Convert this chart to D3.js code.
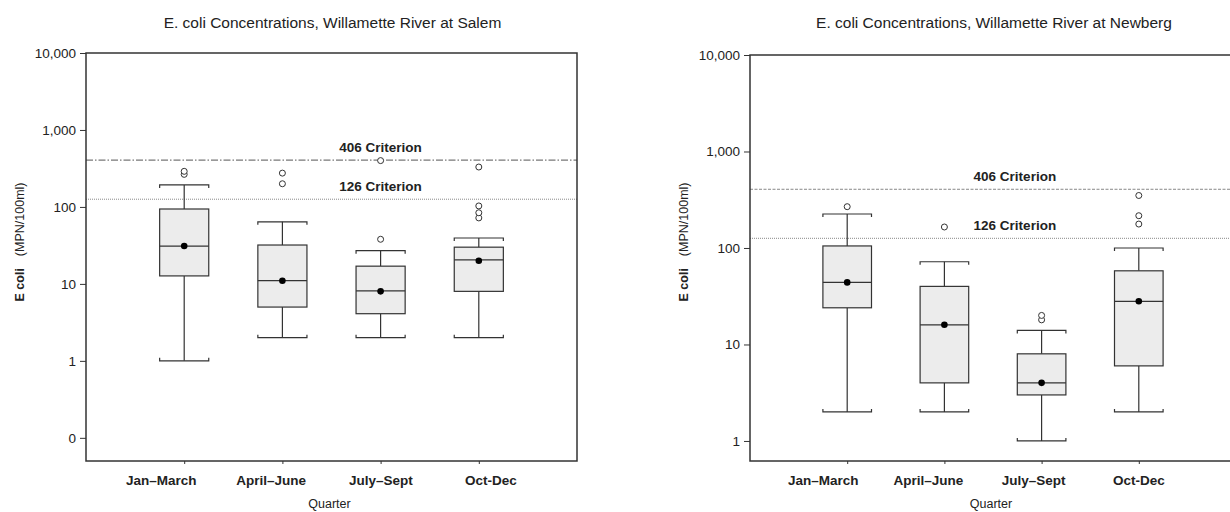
<!DOCTYPE html>
<html>
<head>
<meta charset="utf-8">
<script src="https://cdn.jsdelivr.net/npm/d3@7"></script>
<style>
  html, body { margin: 0; padding: 0; background: #fff; }
  svg { display: block; font-family: "Liberation Sans", Arial, sans-serif; }
</style>
</head>
<body>
<svg id="chart" width="1230" height="512"></svg>
<script>
// ---------- data ----------
const quarters = ["Jan–March", "April–June", "July–Sept", "Oct-Dec"];

const salemMin      = [1, 2, 2, 2];
const salemQ1       = [12.7, 5, 4.1, 8];
const salemMedian   = [31, 11, 8.1, 20.5];
const salemQ3       = [94, 32, 17, 30];
const salemMax      = [193, 64, 27, 39.5];
const salemMean     = [31, 11, 8, 20];
const salemOutliers = [[265, 290], [200, 275], [38, 400], [72, 84, 103, 330]];

const newbergMin      = [2, 2, 1, 2];
const newbergQ1       = [24, 4, 3, 6];
const newbergMedian   = [44, 16, 4, 28];
const newbergQ3       = [105, 40, 8, 58];
const newbergMax      = [225, 72, 14, 100];
const newbergMean     = [44, 16, 4, 28];
const newbergOutliers = [[268], [165], [18, 20], [177, 216, 350]];

const criteria = [406, 126];
const criterionLabels = ["406 Criterion", "126 Criterion"];

const salemTicks = [0.1, 1, 10, 100, 1000, 10000];
const salemTickLabels = ["0", "1", "10", "100", "1,000", "10,000"];
const newbergTicks = [1, 10, 100, 1000, 10000];
const newbergTickLabels = ["1", "10", "100", "1,000", "10,000"];

const titles = ["E. coli Concentrations, Willamette River at Salem",
                "E. coli Concentrations, Willamette River at Newberg"];

// ---------- layout ----------
const svg = d3.select("#chart");

const panels = [
  { title: titles[0], x0: 86, x1: 577, y0: 53, y1: 461, dom: [0.05, 10000],
    min: salemMin, q1: salemQ1, med: salemMedian, q3: salemQ3, max: salemMax,
    mean: salemMean, out: salemOutliers, ticks: salemTicks, tickLabels: salemTickLabels,
    dash406: "7,2,1.5,2", col406: "#555", labFrac: 0.6, labOff: [-23, 12], ylabX: 20 },
  { title: titles[1], x0: 750, x1: 1236, y0: 55, y1: 461, dom: [0.62, 10000],
    min: newbergMin, q1: newbergQ1, med: newbergMedian, q3: newbergQ3, max: newbergMax,
    mean: newbergMean, out: newbergOutliers, ticks: newbergTicks, tickLabels: newbergTickLabels,
    dash406: "3,1.5", col406: "#888", labFrac: 0.545, labOff: [-24, 0], ylabX: 684 }
];

panels.forEach(p => {
  const g = svg.append("g");
  const x = d3.scalePoint().domain(quarters).range([p.x0, p.x1]).padding(1);
  const y = d3.scaleLog().domain(p.dom).range([p.y1, p.y0]);
  const step = x.step();
  const bw = step * 0.5;

  // title
  g.append("text")
    .attr("x", (p.x0 + p.x1) / 2 + 1).attr("y", 28)
    .attr("text-anchor", "middle")
    .attr("font-size", 15.5).attr("fill", "#222")
    .text(p.title);

  // criterion lines
  criteria.forEach((c, i) => {
    g.append("line")
      .attr("x1", p.x0).attr("x2", p.x1)
      .attr("y1", y(c)).attr("y2", y(c))
      .attr("stroke", i === 0 ? p.col406 : "#888")
      .attr("stroke-width", 1)
      .attr("stroke-dasharray", i === 0 ? p.dash406 : "1,1");
    g.append("text")
      .attr("x", p.x0 + p.labFrac * (p.x1 - p.x0))
      .attr("y", y(c) - 8)
      .attr("text-anchor", "middle")
      .attr("font-size", 13.5).attr("font-weight", "bold").attr("fill", "#222")
      .text(criterionLabels[i]);
  });

  // boxes
  quarters.forEach((q, i) => {
    const cx = x(q);
    const bx = g.append("g");
    // whiskers
    bx.append("line").attr("x1", cx).attr("x2", cx)
      .attr("y1", y(p.q3[i])).attr("y2", y(p.max[i]))
      .attr("stroke", "#333").attr("stroke-width", 1.2);
    bx.append("line").attr("x1", cx).attr("x2", cx)
      .attr("y1", y(p.q1[i])).attr("y2", y(p.min[i]))
      .attr("stroke", "#333").attr("stroke-width", 1.2);
    // caps
    const yt = y(p.max[i]), yb = y(p.min[i]);
    bx.append("path")
      .attr("d", `M${cx - bw / 2},${yt + 3}V${yt}H${cx + bw / 2}V${yt + 3}`)
      .attr("fill", "none").attr("stroke", "#333").attr("stroke-width", 1.2);
    bx.append("path")
      .attr("d", `M${cx - bw / 2},${yb - 3}V${yb}H${cx + bw / 2}V${yb - 3}`)
      .attr("fill", "none").attr("stroke", "#333").attr("stroke-width", 1.2);
    // box
    bx.append("rect")
      .attr("x", cx - bw / 2).attr("width", bw)
      .attr("y", y(p.q3[i])).attr("height", y(p.q1[i]) - y(p.q3[i]))
      .attr("fill", "#ececec").attr("stroke", "#333").attr("stroke-width", 1.2);
    // median
    bx.append("line").attr("x1", cx - bw / 2).attr("x2", cx + bw / 2)
      .attr("y1", y(p.med[i])).attr("y2", y(p.med[i]))
      .attr("stroke", "#333").attr("stroke-width", 1.2);
    // mean
    bx.append("path")
      .attr("transform", `translate(${cx},${y(p.mean[i])})`)
      .attr("d", d3.symbol(d3.symbolCircle, 34)())
      .attr("fill", "#000");
    // outliers
    p.out[i].forEach(v => {
      bx.append("circle").attr("cx", cx).attr("cy", y(v)).attr("r", 3)
        .attr("fill", "#fff").attr("stroke", "#333").attr("stroke-width", 1);
    });
  });

  // frame
  g.append("rect")
    .attr("x", p.x0).attr("y", p.y0)
    .attr("width", p.x1 - p.x0).attr("height", p.y1 - p.y0)
    .attr("fill", "none").attr("stroke", "#333").attr("stroke-width", 1.5);

  // y axis
  const yAxis = d3.axisLeft(y).tickValues(p.ticks)
    .tickFormat((d, i) => p.tickLabels[i]).tickSize(6).tickPadding(4);
  const ya = g.append("g").attr("transform", `translate(${p.x0},0)`).call(yAxis);
  ya.select(".domain").remove();
  ya.selectAll("line").attr("stroke", "#333");
  ya.selectAll("text").attr("font-size", 13.5).attr("fill", "#222")
    .attr("font-family", "Liberation Sans, Arial, sans-serif");

  // x axis ticks
  const xAxis = d3.axisBottom(x).tickSize(3).tickFormat("");
  const xa = g.append("g").attr("transform", `translate(0,${p.y1})`).call(xAxis);
  xa.select(".domain").remove();
  xa.selectAll("line").attr("stroke", "#333");

  // x labels
  const xl = d3.scalePoint().domain(quarters)
    .range([x(quarters[0]) + p.labOff[0], x(quarters[quarters.length - 1]) + p.labOff[1]]);
  quarters.forEach(q => {
    g.append("text")
      .attr("x", xl(q)).attr("y", 485)
      .attr("text-anchor", "middle")
      .attr("font-size", 13.5).attr("font-weight", "bold").attr("fill", "#222")
      .text(q);
  });

  g.append("text")
    .attr("x", (p.x0 + p.x1) / 2 - 2).attr("y", 508)
    .attr("text-anchor", "middle")
    .attr("font-size", 12.5).attr("fill", "#222")
    .text("Quarter");

  // y label
  const yl = g.append("text")
    .attr("transform", `translate(${p.ylabX + 4},242) rotate(-90)`)
    .attr("text-anchor", "middle")
    .attr("font-size", 12.5).attr("fill", "#222");
  yl.append("tspan").attr("font-weight", "bold").text("E coli");
  yl.append("tspan").attr("dx", 12).text("(MPN/100ml)");
});
</script>
</body>
</html>
